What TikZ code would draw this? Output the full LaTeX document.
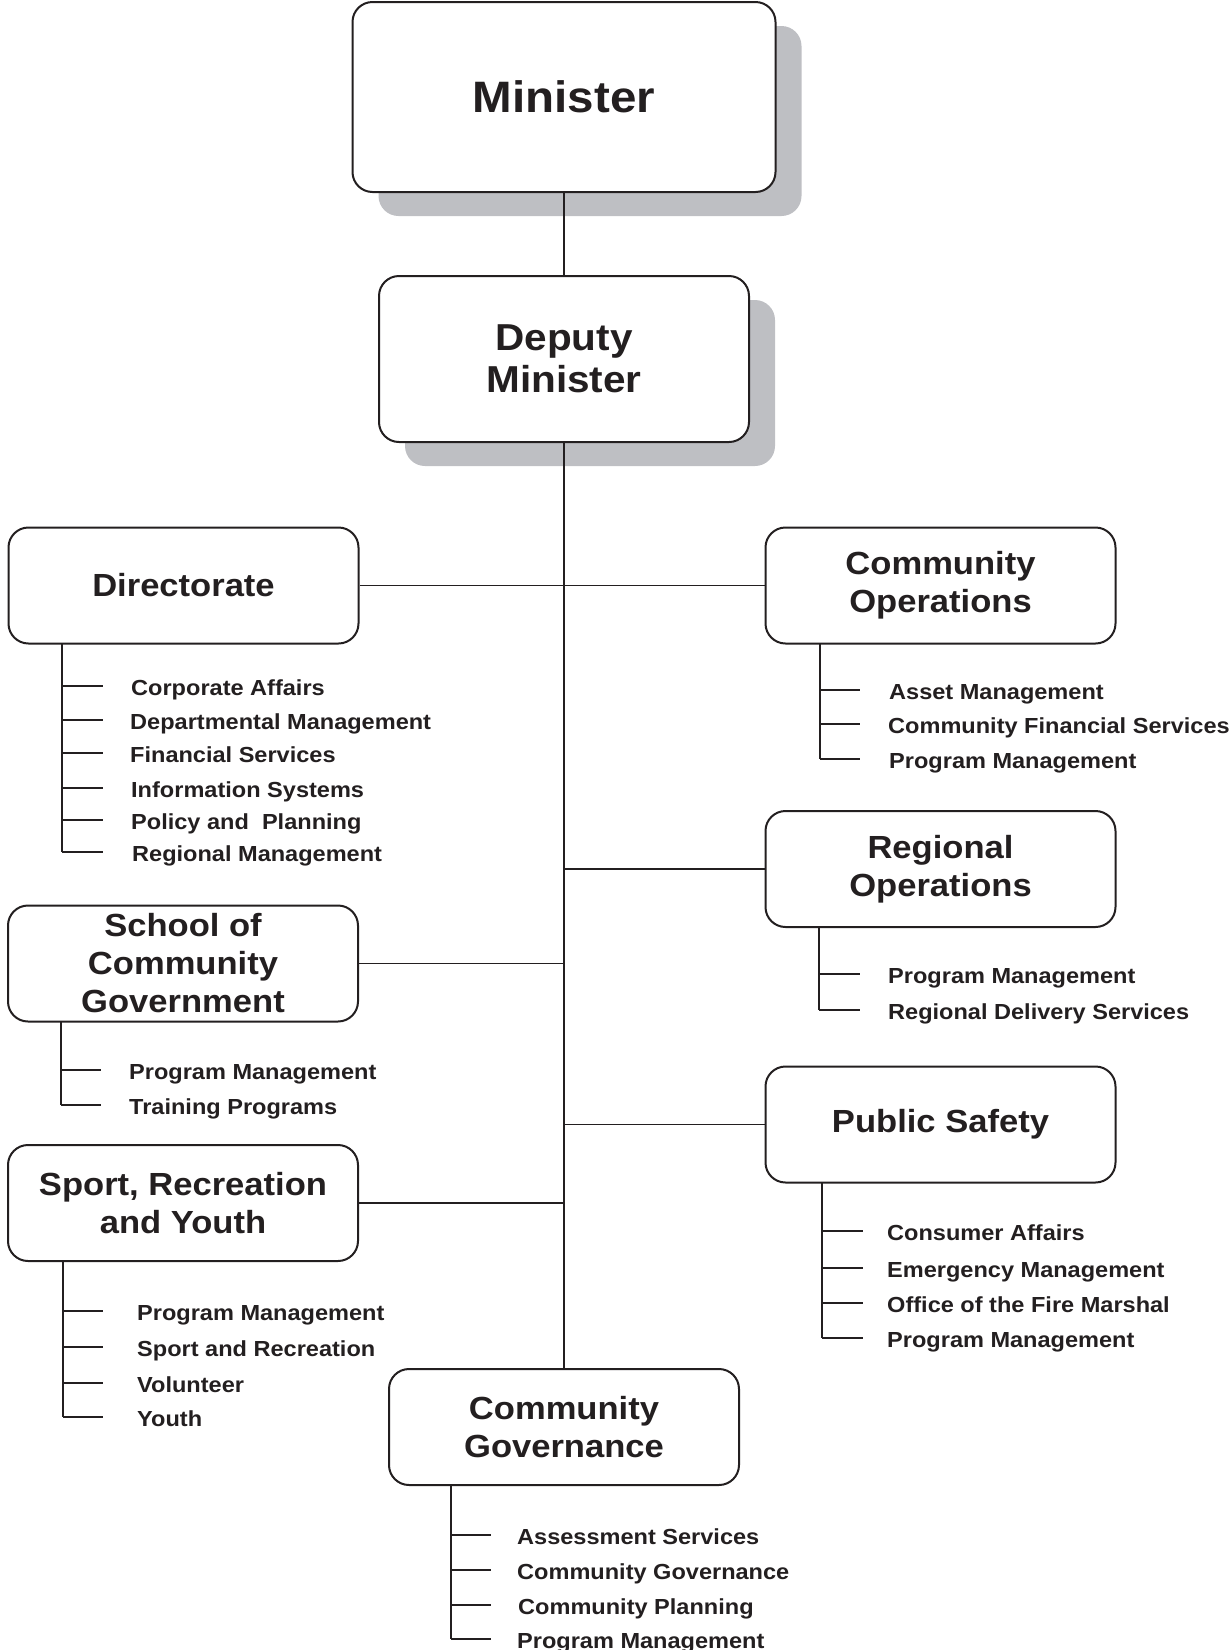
\documentclass[tikz,border=0pt]{standalone}
\usepackage{fontspec}
\setmainfont{Liberation Sans}[FakeStretch=1.08]
\usetikzlibrary{shadows}
\definecolor{ink}{RGB}{35,31,32}
\definecolor{shadowgray}{RGB}{190,191,195}
\begin{document}
\begin{tikzpicture}[x=1pt,y=-1pt,
  box/.style={draw=ink, line width=2pt, rounded corners=20pt, fill=white, align=center, inner sep=0pt, text=ink, font=\fontsize{32}{38}\selectfont\bfseries, minimum width=350pt, minimum height=116pt},
  shadowed/.style={drop shadow={shadow xshift=26pt, shadow yshift=-24pt, fill=shadowgray, opacity=1}},
  item/.style={anchor=west, inner sep=0pt, text=ink, font=\fontsize{21.8}{26}\selectfont\bfseries, text height=21pt, text depth=2pt},
  link/.style={draw=ink, line width=1.2pt},
  bracket/.style={draw=ink, line width=2pt},
]
\useasboundingbox (0,0) rectangle (1230,1650);

% main boxes
\node[box, shadowed, minimum width=423pt, minimum height=190pt, font=\fontsize{44}{50}\selectfont\bfseries] (min) at (564,97) {Minister};
\node[box, shadowed, minimum width=370pt, minimum height=166pt, font=\fontsize{37.5}{42}\selectfont\bfseries] (dep) at (564,359) {Deputy\\Minister};

\node[box] (dir) at (183.5,585.5) {Directorate};
\node[box] (co)  at (940.5,585.5) {Community\\Operations};
\node[box] (ro)  at (940.5,869) {Regional\\Operations};
\node[box] (ps)  at (940.5,1124.5) {Public Safety};
\node[box] (scg) at (183,963.5) {School of\\Community\\Government};
\node[box] (sry) at (183,1203) {Sport, Recreation\\and Youth};
\node[box] (cg)  at (564,1427) {Community\\Governance};

% connectors
\draw[link] (min.south) -- (dep.north);
\draw[link] (dep.south) -- (cg.north);
\draw[link] (dir.east) -- (co.west);
\draw[link] (ro.west) -- (ro.west -| dep.south);
\draw[link] (ps.west) -- (ps.west -| dep.south);
\draw[link] (scg.east) -- (scg.east -| dep.south);
\draw[link] (sry.east) -- (sry.east -| dep.south);

% Directorate list
\coordinate (dirB) at (62,643.5);
\node[item] (d1) at (131,686) {Corporate Affairs};
\node[item] (d2) at (130,720) {Departmental Management};
\node[item] (d3) at (130,753) {Financial Services};
\node[item] (d4) at (131,788) {Information Systems};
\node[item] (d5) at (131,820) {Policy and\ \ Planning};
\node[item] (d6) at (132,852) {Regional Management};
\draw[bracket] (dirB) -- (dirB |- d6.west);
\foreach \n in {d1,d2,d3,d4,d5,d6} \draw[bracket] (dirB |- \n.west) -- ++(41,0);

% Community Operations list
\coordinate (coB) at (820,643.5);
\node[item] (c1) at (889,690) {Asset Management};
\node[item] (c2) at (888,724) {Community Financial Services};
\node[item] (c3) at (889,759) {Program Management};
\draw[bracket] (coB) -- (coB |- c3.west);
\foreach \n in {c1,c2,c3} \draw[bracket] (coB |- \n.west) -- ++(40,0);

% Regional Operations list
\coordinate (roB) at (819,927);
\node[item] (r1) at (888,974) {Program Management};
\node[item] (r2) at (888,1010) {Regional Delivery Services};
\draw[bracket] (roB) -- (roB |- r2.west);
\foreach \n in {r1,r2} \draw[bracket] (roB |- \n.west) -- ++(41,0);

% Public Safety list
\coordinate (psB) at (822,1182.5);
\node[item] (p1) at (887,1231) {Consumer Affairs};
\node[item] (p2) at (887,1268) {Emergency Management};
\node[item] (p3) at (887,1303) {Office of the Fire Marshal};
\node[item] (p4) at (887,1338) {Program Management};
\draw[bracket] (psB) -- (psB |- p4.west);
\foreach \n in {p1,p2,p3,p4} \draw[bracket] (psB |- \n.west) -- ++(41,0);

% School of Community Government list
\coordinate (scB) at (61,1021.5);
\node[item] (s1) at (129,1070) {Program Management};
\node[item] (s2) at (129,1105) {Training Programs};
\draw[bracket] (scB) -- (scB |- s2.west);
\foreach \n in {s1,s2} \draw[bracket] (scB |- \n.west) -- ++(40,0);

% Sport, Recreation and Youth list
\coordinate (spB) at (63,1261);
\node[item] (y1) at (137,1311) {Program Management};
\node[item] (y2) at (137,1347) {Sport and Recreation};
\node[item] (y3) at (137,1383) {Volunteer};
\node[item] (y4) at (137,1417) {Youth};
\draw[bracket] (spB) -- (spB |- y4.west);
\foreach \n in {y1,y2,y3,y4} \draw[bracket] (spB |- \n.west) -- ++(40,0);

% Community Governance list
\coordinate (cgB) at (451,1485);
\node[item] (g1) at (517,1535) {Assessment Services};
\node[item] (g2) at (517,1570) {Community Governance};
\node[item] (g3) at (518,1605) {Community Planning};
\node[item] (g4) at (517,1639) {Program Management};
\draw[bracket] (cgB) -- (cgB |- g4.west);
\foreach \n in {g1,g2,g3,g4} \draw[bracket] (cgB |- \n.west) -- ++(40,0);

\end{tikzpicture}
\end{document}
